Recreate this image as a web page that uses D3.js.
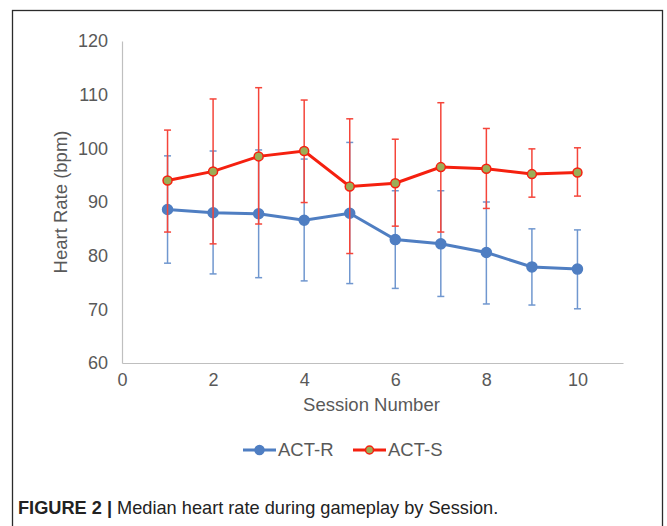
<!DOCTYPE html>
<html>
<head>
<meta charset="utf-8">
<script src="https://cdn.jsdelivr.net/npm/d3@7"></script>
<style>
  body { margin: 0; background: #fff; }
  text { font-family: "Liberation Sans", Arial, Helvetica, sans-serif; }
</style>
</head>
<body>
<svg width="667" height="526"></svg>
<script>
// data
const sessions = [1, 2, 3, 4, 5, 6, 7, 8, 9, 10];

const actR = [88.6, 88.0, 87.8, 86.6, 87.9, 83.0, 82.2, 80.6, 77.9, 77.5];
const actRHigh = [98.6, 99.5, 99.7, 98.0, 101.1, 92.1, 92.1, 90.0, 85.0, 84.8];
const actRLow = [78.6, 76.6, 75.9, 75.3, 74.8, 73.9, 72.4, 71.0, 70.8, 70.1];

const actS = [94.0, 95.7, 98.5, 99.5, 92.9, 93.5, 96.5, 96.2, 95.2, 95.5];
const actSHigh = [103.4, 109.2, 111.3, 109.0, 105.5, 101.7, 108.5, 103.7, 99.9, 100.1];
const actSLow = [84.4, 82.2, 85.9, 89.9, 80.4, 85.5, 84.4, 88.8, 90.9, 91.1];

const xTicks = [0, 2, 4, 6, 8, 10];
const yTicks = [60, 70, 80, 90, 100, 110, 120];

const svg = d3.select('svg');

// figure frame
svg.append('rect')
  .attr('x', 12.5)
  .attr('y', 10.5)
  .attr('width', 650)
  .attr('height', 540)
  .attr('fill', 'none')
  .attr('stroke', '#2b2b2b')
  .attr('stroke-width', 1.3);

const plotLeft = 122;
const plotRight = 623;
const plotTop = 41;
const plotBottom = 363;

const x = d3.scaleLinear().domain([0, 11]).range([plotLeft, plotRight]);
const y = d3.scaleLinear().domain([60, 120]).range([plotBottom, plotTop]);

const axisColor = '#bfbfbf';
const labelColor = '#595959';

// axes
const yAxis = svg.append('g')
  .attr('transform', `translate(${plotLeft},0)`)
  .call(d3.axisLeft(y).tickValues(yTicks).tickSize(0).tickPadding(14));
const xAxis = svg.append('g')
  .attr('transform', `translate(0,${plotBottom})`)
  .call(d3.axisBottom(x).tickValues(xTicks).tickSize(0).tickPadding(10));

[yAxis, xAxis].forEach(a => {
  a.select('.domain').attr('stroke', axisColor).attr('stroke-width', 1.2);
  a.selectAll('text')
    .attr('fill', labelColor)
    .style('font-size', '18px');
});

svg.append('text')
  .attr('x', (plotLeft + plotRight) / 2 - 1)
  .attr('y', 411)
  .attr('text-anchor', 'middle')
  .attr('fill', labelColor)
  .style('font-size', '18.5px')
  .text('Session Number');

svg.append('text')
  .attr('transform', `translate(67,${(plotTop + plotBottom) / 2}) rotate(-90)`)
  .attr('text-anchor', 'middle')
  .attr('fill', labelColor)
  .style('font-size', '18.5px')
  .text('Heart Rate (bpm)');

const series = [
  { name: 'ACT-R', values: actR, high: actRHigh, low: actRLow,
    line: '#4f7ec2', bar: '#7097cf', fill: '#4f7ec2', stroke: '#4f7ec2', r: 5 },
  { name: 'ACT-S', values: actS, high: actSHigh, low: actSLow,
    line: '#f5200f', bar: '#f5453a', fill: '#9bae57', stroke: '#f5200f', r: 4.5 }
];

const line = d3.line()
  .x((d, i) => x(sessions[i]))
  .y(d => y(d));

const cap = 3.5;

series.forEach(s => {
  const g = svg.append('g');

  // error bars
  sessions.forEach((sess, i) => {
    const cx = x(sess);
    g.append('line')
      .attr('x1', cx).attr('x2', cx)
      .attr('y1', y(s.high[i])).attr('y2', y(s.low[i]))
      .attr('stroke', s.bar).attr('stroke-width', 1.5);
    [s.high[i], s.low[i]].forEach(v => {
      g.append('line')
        .attr('x1', cx - cap).attr('x2', cx + cap)
        .attr('y1', y(v)).attr('y2', y(v))
        .attr('stroke', s.bar).attr('stroke-width', 1.5);
    });
  });

  g.append('path')
    .attr('d', line(s.values))
    .attr('fill', 'none')
    .attr('stroke', s.line)
    .attr('stroke-width', 3);

  g.selectAll('circle')
    .data(s.values)
    .join('circle')
    .attr('cx', (d, i) => x(sessions[i]))
    .attr('cy', d => y(d))
    .attr('r', s.r)
    .attr('fill', s.fill)
    .attr('stroke', s.stroke)
    .attr('stroke-width', 1.5);
});

// legend
const legend = svg.append('g').attr('transform', 'translate(0,450)');
const legendX = [243, 353];
series.forEach((s, i) => {
  const lg = legend.append('g').attr('transform', `translate(${legendX[i]},0)`);
  lg.append('line')
    .attr('x1', 0).attr('x2', 33)
    .attr('stroke', s.line).attr('stroke-width', 3);
  lg.append('circle')
    .attr('cx', 16.5).attr('r', s.r - 0.5)
    .attr('fill', s.fill)
    .attr('stroke', s.stroke)
    .attr('stroke-width', 1.5);
  lg.append('text')
    .attr('x', 35)
    .attr('dy', '0.35em')
    .attr('fill', labelColor)
    .style('font-size', '18.5px')
    .text(s.name);
});

// caption
const caption = svg.append('text')
  .attr('x', 18)
  .attr('y', 514)
  .attr('fill', '#222')
  .style('font-family', '"Liberation Sans Narrow", "Liberation Sans", Arial, sans-serif')
  .style('font-size', '18.2px');
caption.append('tspan')
  .style('font-weight', 'bold')
  .text('FIGURE 2 |');
caption.append('tspan')
  .text(' Median heart rate during gameplay by Session.');
</script>
</body>
</html>
